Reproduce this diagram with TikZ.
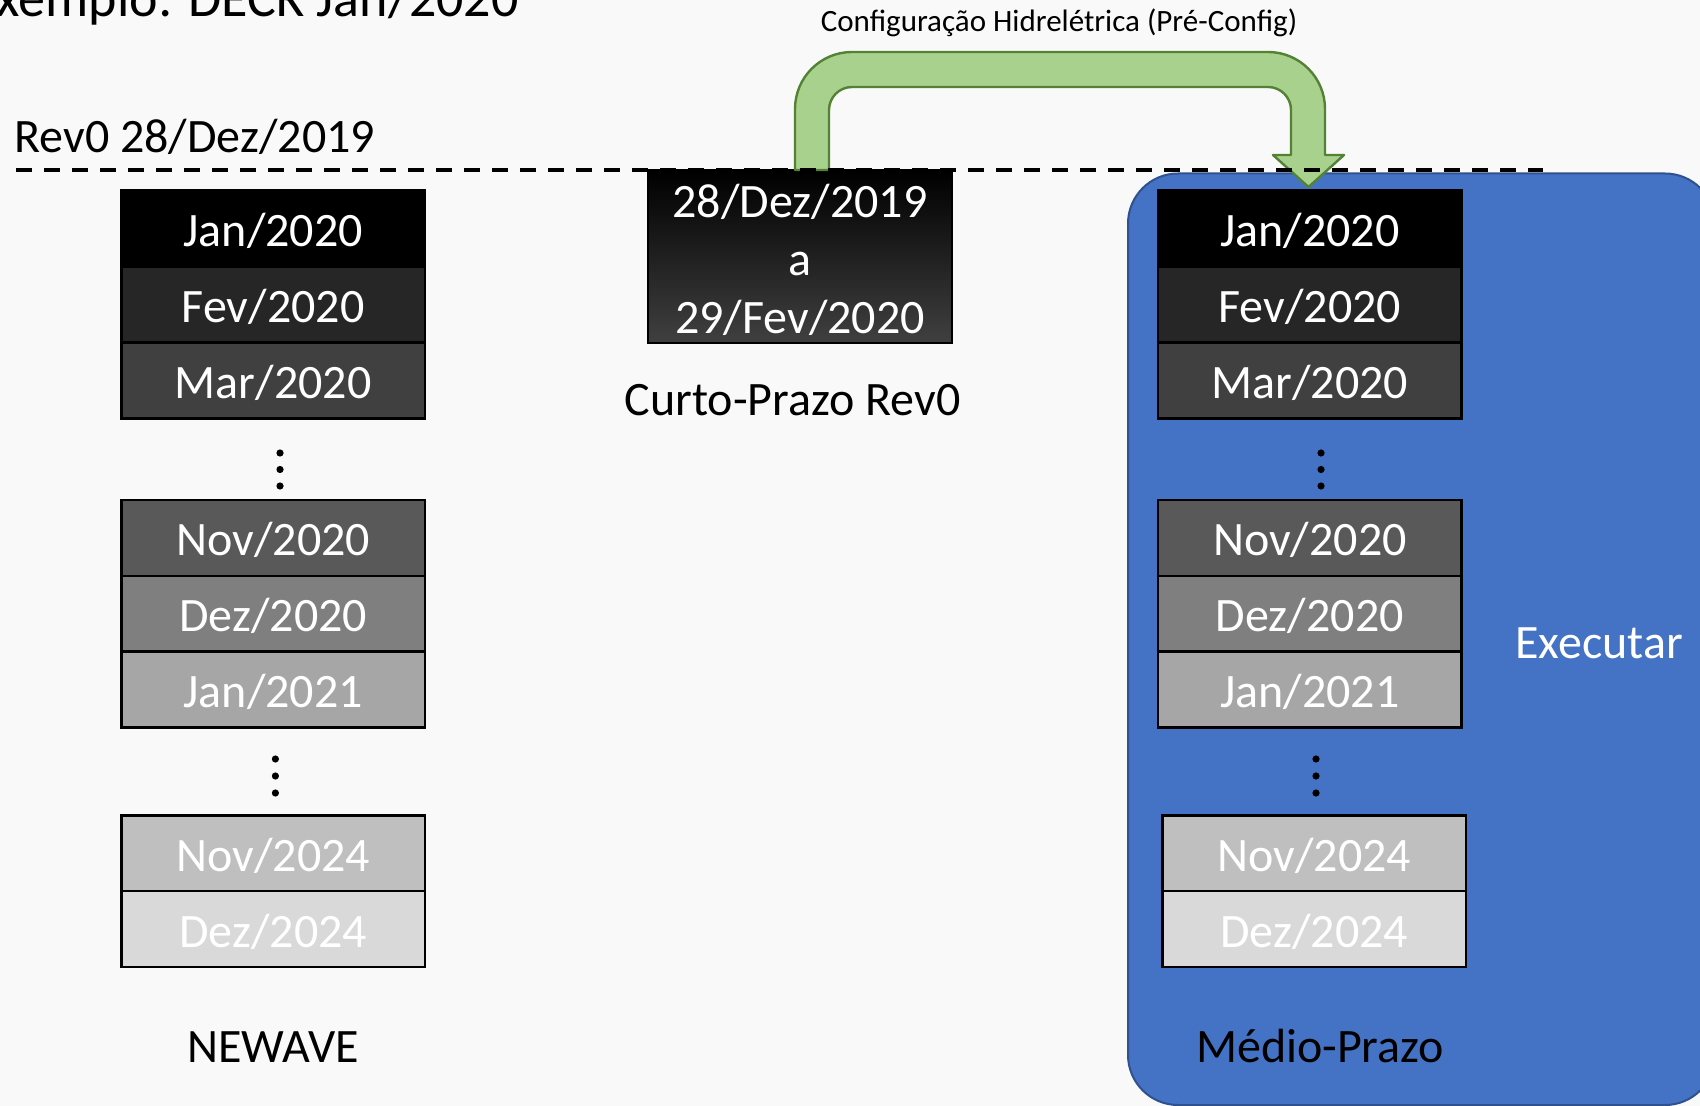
\documentclass[tikz,border=0pt]{standalone}
\usepackage{fontspec}
\setmainfont{Carlito}
\definecolor{bgc}{RGB}{249,249,249}
\definecolor{mpblue}{RGB}{68,114,196}
\definecolor{mpborder}{RGB}{47,82,143}
\definecolor{arrfill}{RGB}{169,209,142}
\definecolor{arrline}{RGB}{84,130,53}
\definecolor{c1}{RGB}{0,0,0}
\definecolor{c2}{RGB}{38,38,38}
\definecolor{c3}{RGB}{64,64,64}
\definecolor{c4}{RGB}{89,89,89}
\definecolor{c5}{RGB}{127,127,127}
\definecolor{c6}{RGB}{166,166,166}
\definecolor{c7}{RGB}{191,191,191}
\definecolor{c8}{RGB}{217,217,217}
\begin{document}
\begin{tikzpicture}[x=0.5pt,y=0.5pt,
  cell/.style={draw=black, line width=1.25pt, minimum width=151.8pt, minimum height=37.95pt,
    inner sep=0pt, text=white, font=\fontsize{24}{29}\selectfont, text height=18pt, text depth=0pt},
  lbl/.style={inner sep=0pt, font=\fontsize{24}{29}\selectfont},
  midbox/.style={draw=black, line width=1.25pt, minimum width=152pt, minimum height=86.15pt,
    inner sep=0pt, top color=black, bottom color=c3, text=white, align=center,
    font=\fontsize{24}{29}\selectfont},
  bluebox/.style={draw=mpborder, line width=1pt, fill=mpblue, rounded corners=25pt,
    minimum width=293.5pt, minimum height=465.75pt, inner sep=0pt},
  greenarrow/.style={fill=arrfill, draw=arrline, line width=1.2pt, line join=round},
  dashline/.style={draw=black, line width=2.25pt, dash pattern=on 8pt off 6pt},
  dotmark/.style={fill=black}
]
\useasboundingbox (0,0) rectangle (1700,-1106);
\fill[bgc] (0,0) rectangle (1700,-1106);
\clip (0,0) rectangle (1700,-1106);

% container
\node[bluebox] (mpbox) at (1421.5,-639.25) {};

% titles
\node[lbl, anchor=base east, font=\fontsize{27}{32}\selectfont] (title) at (519,-17) {Exemplo: DECK Jan/2020};
\node[lbl, anchor=base west] (rev) at (14,-153) {Rev0 28/Dez/2019};
\node[lbl, anchor=base, font=\fontsize{15.5}{18}\selectfont] (cfg) at (1059,-32) {Configuração Hidrelétrica (Pré-Config)};

% NEWAVE stack
\node[cell, fill=c1] (n1) at (273.2,-228.7) {Jan/2020};
\node[cell, fill=c2] (n2) at (273.2,-304.6) {Fev/2020};
\node[cell, fill=c3] (n3) at (273.2,-380.5) {Mar/2020};
\node[cell, fill=c4] (n4) at (273.2,-537.8) {Nov/2020};
\node[cell, fill=c5] (n5) at (273.2,-613.7) {Dez/2020};
\node[cell, fill=c6] (n6) at (273.2,-689.6) {Jan/2021};
\node[cell, fill=c7] (n7) at (273.2,-853.2) {Nov/2024};
\node[cell, fill=c8] (n8) at (273.2,-929.1) {Dez/2024};
\fill[dotmark] (280,-453) circle[radius=3.6];
\fill[dotmark] (280,-469.5) circle[radius=3.6];
\fill[dotmark] (280,-486) circle[radius=3.6];
\fill[dotmark] (275.4,-759) circle[radius=3.6];
\fill[dotmark] (275.4,-776) circle[radius=3.6];
\fill[dotmark] (275.4,-793) circle[radius=3.6];
\node[lbl, anchor=base] (nw) at (273,-1062) {NEWAVE};

% Medio-Prazo stack
\node[cell, fill=c1] (m1) at (1309.8,-228.7) {Jan/2020};
\node[cell, fill=c2] (m2) at (1309.8,-304.6) {Fev/2020};
\node[cell, fill=c3] (m3) at (1309.8,-380.5) {Mar/2020};
\node[cell, fill=c4] (m4) at (1309.8,-537.8) {Nov/2020};
\node[cell, fill=c5] (m5) at (1309.8,-613.7) {Dez/2020};
\node[cell, fill=c6] (m6) at (1309.8,-689.6) {Jan/2021};
\node[cell, fill=c7] (m7) at (1314.3,-853.2) {Nov/2024};
\node[cell, fill=c8] (m8) at (1314.3,-929.1) {Dez/2024};
\fill[dotmark] (1321,-453) circle[radius=3.6];
\fill[dotmark] (1321,-469.5) circle[radius=3.6];
\fill[dotmark] (1321,-486) circle[radius=3.6];
\fill[dotmark] (1316,-759) circle[radius=3.6];
\fill[dotmark] (1316,-776) circle[radius=3.6];
\fill[dotmark] (1316,-793) circle[radius=3.6];
\node[lbl, anchor=base] (mp) at (1320,-1062) {Médio-Prazo};
\node[lbl, anchor=base, text=white] (ex) at (1599,-658) {Executar};

% Curto-Prazo
\node[midbox] (cp) at (800,-256.9) {\rule{0pt}{20pt}28/Dez/2019\\a\\29/Fev/2020};
\node[lbl, anchor=base] (cpl) at (792.6,-415.5) {Curto-Prazo Rev0};

% green U arrow
\draw[greenarrow] (795,-170) -- (795,-109) arc[start angle=180,end angle=90,radius=28.5pt]
  -- (1268,-52) arc[start angle=90,end angle=0,radius=28.5pt]
  -- (1325,-155) -- (1344,-155) -- (1308.5,-187) -- (1273,-155) -- (1291,-155)
  -- (1291,-110) arc[start angle=0,end angle=90,radius=11.5pt]
  -- (852,-87) arc[start angle=90,end angle=180,radius=11.5pt]
  -- (829,-170) -- cycle;

% dashed line
\coordinate (dl) at (16,-170);
\coordinate (dr) at (1543,-170);
\draw[dashline] (dl) -- (dr);
\end{tikzpicture}
\end{document}
